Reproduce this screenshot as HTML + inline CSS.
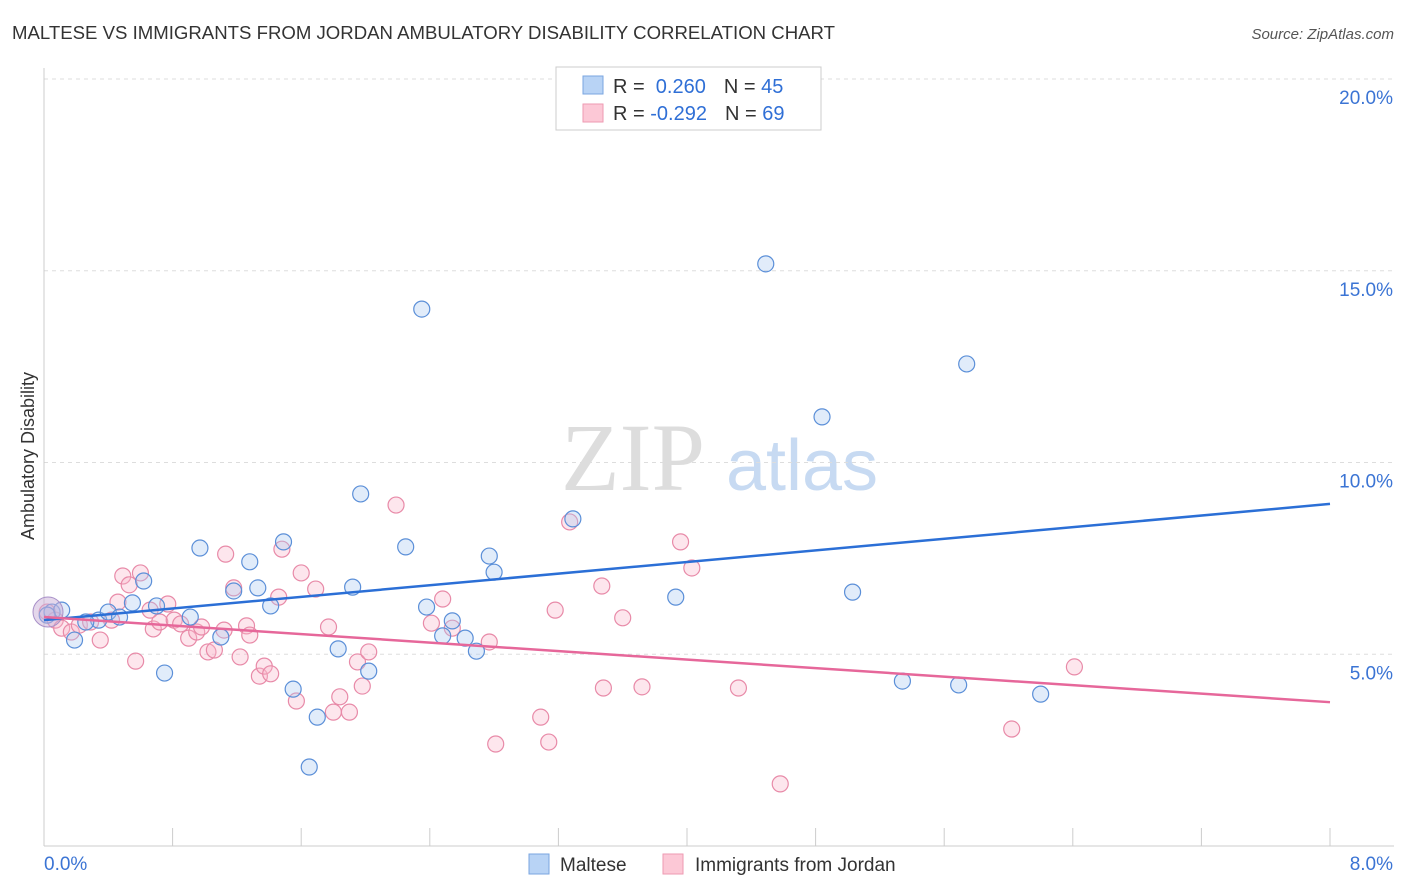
<!DOCTYPE html>
<html><head><meta charset="utf-8"><style>
body{margin:0;background:#fff;font-family:"Liberation Sans",sans-serif;}
#c{position:relative;width:1406px;height:892px;overflow:hidden}
</style></head><body>
<div id="c">
<svg id="s" width="1406" height="892" xmlns="http://www.w3.org/2000/svg">
<text x="12" y="39" font-size="18" fill="#333" textLength="823" lengthAdjust="spacingAndGlyphs">MALTESE VS IMMIGRANTS FROM JORDAN AMBULATORY DISABILITY CORRELATION CHART</text>
<text x="1394" y="39" font-size="15" fill="#555" font-style="italic" text-anchor="end">Source: ZipAtlas.com</text>
<text x="34" y="456" font-size="18" fill="#333" text-anchor="middle" transform="rotate(-90 34 456)">Ambulatory Disability</text>
<g>
<text x="633" y="490" font-size="96" fill="#ddd" font-family="Liberation Serif,serif" text-anchor="middle">ZIP</text>
<text x="802" y="490" font-size="72" fill="#c7daf2" text-anchor="middle">atlas</text>
</g>
<g id="grid"></g><g id="marks"></g>
<g>
<rect x="556" y="67" width="265" height="63" fill="#fff" stroke="#ccc"/>
<rect x="583" y="76" width="20" height="18" fill="#b8d3f5" stroke="#7aa6e0"/>
<rect x="583" y="104" width="20" height="18" fill="#fcc8d6" stroke="#ee9ab2"/>
<text x="613" y="93" font-size="20" fill="#333">R = <tspan fill="#2f6fd6">&#160;0.260</tspan><tspan dx="18">N = </tspan><tspan fill="#2f6fd6">45</tspan></text>
<text x="613" y="120" font-size="20" fill="#333">R = <tspan fill="#2f6fd6">-0.292</tspan><tspan dx="18">N = </tspan><tspan fill="#2f6fd6">69</tspan></text>
</g>
<g>
<rect x="529" y="854" width="20" height="20" fill="#b8d3f5" stroke="#7aa6e0"/>
<text x="560" y="871" font-size="19" fill="#333">Maltese</text>
<rect x="663" y="854" width="20" height="20" fill="#fcc8d6" stroke="#ee9ab2"/>
<text x="695" y="871" font-size="19" fill="#333">Immigrants from Jordan</text>
</g>
</svg></div>
<script>
const blueX=[0.05,0.11,0.19,0.34,0.40,0.47,0.55,0.62,0.70,0.75,0.91,0.97,1.10,1.18,1.28,1.33,1.41,1.49,1.55,1.65,1.70,1.83,1.92,1.97,2.02,2.25,2.35,2.38,2.48,2.54,2.62,2.69,2.77,2.80,3.29,3.93,4.49,4.84,5.03,5.34,5.69,5.74,6.20,0.02,0.26];
const blueY=[6.10,6.15,5.37,5.89,6.10,5.97,6.34,6.91,6.26,4.51,5.97,7.77,5.45,6.65,7.41,6.73,6.26,7.93,4.09,2.06,3.36,5.14,6.75,9.18,4.56,7.80,14.00,6.23,5.48,5.87,5.42,5.08,7.56,7.14,8.53,6.49,15.18,11.19,6.62,4.30,4.20,12.57,3.96,6.02,5.84];
const pinkX=[0.02,0.07,0.11,0.17,0.22,0.29,0.35,0.42,0.46,0.49,0.53,0.57,0.60,0.66,0.68,0.72,0.77,0.81,0.85,0.90,0.95,0.98,1.02,1.06,1.12,1.13,1.18,1.22,1.26,1.28,1.34,1.37,1.41,1.46,1.48,1.57,1.60,1.69,1.77,1.80,1.84,1.90,1.95,1.98,2.02,2.19,2.41,2.48,2.54,2.77,2.81,3.09,3.14,3.18,3.27,3.47,3.48,3.60,3.72,3.96,4.03,4.32,4.58,6.02,6.41];
const pinkY=[6.10,5.89,5.68,5.58,5.76,5.84,5.37,5.89,6.36,7.04,6.81,4.82,7.12,6.15,5.66,5.84,6.31,5.89,5.79,5.42,5.58,5.71,5.06,5.11,5.63,7.61,6.73,4.93,5.74,5.50,4.43,4.69,4.49,6.49,7.74,3.78,7.12,6.70,5.71,3.49,3.89,3.49,4.80,4.17,5.06,8.89,5.81,6.44,5.68,5.32,2.66,3.36,2.71,6.15,8.45,6.78,4.12,5.95,4.15,7.93,7.25,4.12,1.62,3.05,4.67];
const blueTrend=[5.89,8.92];
const pinkTrend=[5.97,3.75];
const yTicks=[5,10,15,20];
const yTickLabels=["5.0%","10.0%","15.0%","20.0%"];
const xTicks=[0,0.8,1.6,2.4,3.2,4.0,4.8,5.6,6.4,7.2,8.0];
const X=v=>44+v*160.75, Y=v=>846-v*38.35;
const NS="http://www.w3.org/2000/svg";
function mk(p,t,a){const e=document.createElementNS(NS,t);for(const k in a)e.setAttribute(k,a[k]);p.appendChild(e);return e;}
const g=document.getElementById('grid'),m=document.getElementById('marks');
yTicks.forEach((v,i)=>{
 const l=mk(g,'line',{x1:44,x2:1394,y1:Y(v),y2:Y(v),stroke:'#ddd','stroke-dasharray':'4,4'});
 
 
 const t=mk(g,'text',{x:1393,y:Y(v)+25,'font-size':19,fill:'#3b74d4','text-anchor':'end'});
 t.textContent=yTickLabels[i];
 
 
});
const ax=mk(g,'line',{x1:44,x2:44,y1:68,y2:846,stroke:'#ccc'});


const bx=mk(g,'line',{x1:44,x2:1394,y1:846,y2:846,stroke:'#ccc'});


xTicks.forEach(v=>{
 const l=mk(g,'line',{x1:X(v),x2:X(v),y1:828,y2:846,stroke:'#ccc'});
 
 
});
[[0,"0.0%",'start',44],[8,"8.0%",'end',1393]].forEach(a=>{
 const t=mk(g,'text',{x:a[3],y:870,'font-size':19,fill:'#3b74d4','text-anchor':a[2]});
 t.textContent=a[1];
 
 
});
function pts(xs,ys,fill,stroke,name){
 xs.forEach((x,i)=>{
  const c=mk(m,'circle',{cx:X(x),cy:Y(ys[i]),r:8,fill:fill,'fill-opacity':0.35,stroke:stroke,'stroke-width':1.2});
  
  
 });
}
pts(pinkX,pinkY,'#f8b8cb','#e88aa8','jordan-point');
pts(blueX,blueY,'#a9c8f0','#5b8fd8','maltese-point');
const big=mk(m,'circle',{cx:48,cy:612,r:15,fill:'#c9b0d8','fill-opacity':0.5,stroke:'#a890c8'});


const tb=mk(m,'line',{x1:X(0),y1:Y(blueTrend[0]),x2:X(8),y2:Y(blueTrend[1]),stroke:'#2b6fd6','stroke-width':2.5});


const tp=mk(m,'line',{x1:X(0),y1:Y(pinkTrend[0]),x2:X(8),y2:Y(pinkTrend[1]),stroke:'#e6679a','stroke-width':2.5});


</script>
</body></html>
